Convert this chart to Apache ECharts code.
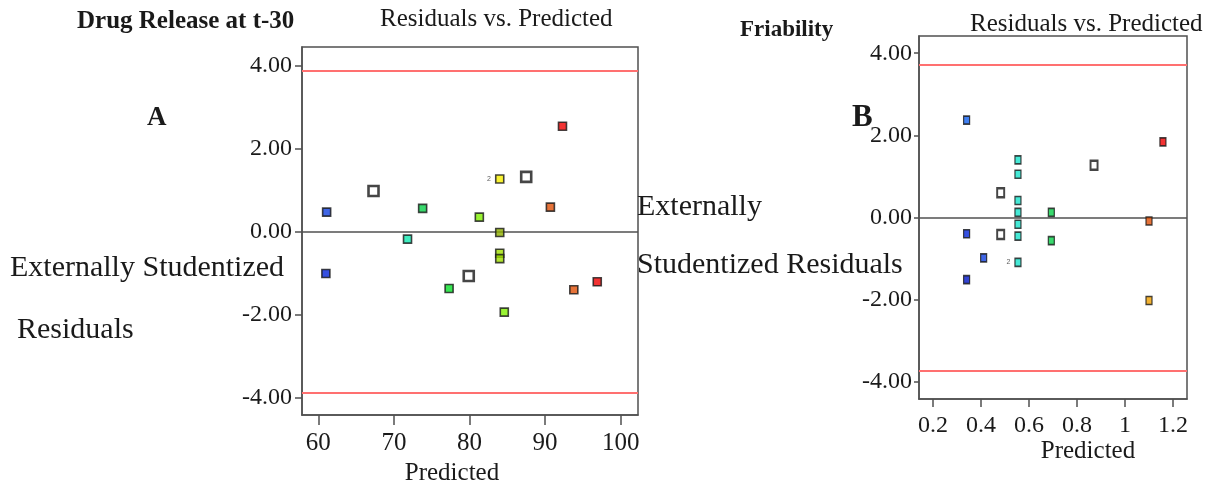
<!DOCTYPE html>
<html>
<head>
<meta charset="utf-8">
<script src="https://cdn.jsdelivr.net/npm/echarts@6/dist/echarts.min.js"></script>
<style>
  html, body { margin: 0; padding: 0; background: #ffffff; }
  #chart { width: 1212px; height: 491px; }
</style>
</head>
<body>
<div id="chart"></div>
<script>
// ---- Panel A: Drug Release at t-30 (residuals vs. predicted) ----
const predA  = [61.1, 61.0, 67.3, 71.8, 73.8, 77.3, 79.9, 81.3, 84.0, 84.0, 84.0, 84.0, 84.6, 87.5, 90.7, 92.3, 93.8, 96.9];
const residA = [0.48, -1.00, 0.99, -0.17, 0.57, -1.36, -1.06, 0.36, 1.28, -0.01, -0.51, -0.64, -1.93, 1.33, 0.60, 2.55, -1.39, -1.20];
const toneA  = ['blue', 'blue2', 'white', 'teal', 'green', 'green2', 'white', 'lime', 'yellow', 'olive', 'lime2', 'lime2', 'lime', 'white', 'orange', 'red', 'orange', 'red'];
const countA = [1, 1, 1, 1, 1, 1, 1, 1, 2, 1, 1, 1, 1, 1, 1, 1, 1, 1];
const limitsA = [3.89, -3.87];
const xTicksA = [60, 70, 80, 90, 100];
const xRangeA = [57.84, 102.29];
const yRangeA = [-4.41, 4.46];

// ---- Panel B: Friability (residuals vs. predicted) ----
const predB  = [0.340, 0.340, 0.340, 0.411, 0.482, 0.482, 0.554, 0.554, 0.554, 0.554, 0.554, 0.554, 0.554, 0.693, 0.693, 0.871, 1.100, 1.100, 1.158];
const residB = [2.37, -0.40, -1.52, -0.99, 0.60, -0.42, 1.40, 1.05, 0.41, 0.12, -0.17, -0.46, -1.10, 0.12, -0.57, 1.27, -0.09, -2.03, 1.84];
const toneB  = ['blueB', 'blue2', 'blue3', 'blue', 'white', 'white', 'tealB', 'tealB', 'tealB', 'tealB', 'tealB', 'tealB', 'tealB', 'green', 'green', 'white', 'orange', 'amber', 'red'];
const countB = [1, 1, 1, 1, 1, 1, 1, 1, 1, 1, 1, 1, 2, 1, 1, 1, 1, 1, 1];
const limitsB = [3.73, -3.74];
const xTicksB = [0.2, 0.4, 0.6, 0.8, 1.0, 1.2];
const xRangeB = [0.1417, 1.2583];
const yRangeB = [-4.43, 4.42];

const yTicks = [-4, -2, 0, 2, 4];

const palette = {
  blue: '#1040e0', blueB: '#1060f0', blue2: '#0424d8', blue3: '#0014c8',
  teal: '#10e8b0', tealB: '#18e4cc', green: '#08d048', green2: '#08e028',
  lime: '#80f000', lime2: '#a0e000', yellow: '#f8f000', olive: '#90b000',
  orange: '#e05008', amber: '#f0a000', red: '#f00000', white: '#ffffff'
};

const SERIF = '"Liberation Serif", "Times New Roman", serif';
const INK = '#1a1a1a';
const FRAME = '#505050';

function points(xs, ys, tones, counts, normalSize, whiteSize, edge, whiteEdge) {
  return xs.map((x, i) => {
    const isWhite = tones[i] === 'white';
    return {
      value: [x, ys[i]],
      symbolSize: isWhite ? whiteSize : normalSize,
      itemStyle: {
        color: palette[tones[i]],
        borderColor: '#181818',
        borderWidth: isWhite ? whiteEdge : edge
      },
      label: {
        show: counts[i] > 1,
        formatter: String(counts[i]),
        position: 'left',
        distance: 4,
        fontSize: 7,
        color: '#333'
      }
    };
  });
}

function refLines(limits) {
  return {
    silent: true,
    symbol: 'none',
    label: { show: false },
    data: [
      { yAxis: 0, lineStyle: { color: FRAME, width: 1.5, type: 'solid' } },
      { yAxis: limits[0], lineStyle: { color: '#ff7070', width: 2, type: 'solid' } },
      { yAxis: limits[1], lineStyle: { color: '#ff7070', width: 2, type: 'solid' } }
    ]
  };
}

function valueAxis(idx, range, ticks, fmt, tickLen, margin, fontSize) {
  return {
    type: 'value',
    gridIndex: idx,
    min: range[0],
    max: range[1],
    splitLine: { show: false },
    axisLine: { show: true, onZero: false, lineStyle: { color: FRAME, width: 1.5 } },
    axisTick: { show: true, inside: false, length: tickLen, customValues: ticks, lineStyle: { color: FRAME, width: 1.5 } },
    axisLabel: {
      show: true, customValues: ticks, formatter: fmt, margin: margin,
      color: INK, fontFamily: SERIF, fontSize: fontSize
    }
  };
}

const fmtY = v => Number(v).toFixed(2);
const fmtXA = v => String(Math.round(v));
const fmtXB = v => String(Math.round(v * 10) / 10);

const chart = echarts.init(document.getElementById('chart'), null, { renderer: 'canvas' });

chart.setOption({
  animation: false,
  backgroundColor: '#ffffff',
  grid: [
    { left: 302, top: 47, width: 336, height: 368, show: true, borderColor: FRAME, borderWidth: 1.5, backgroundColor: 'transparent' },
    { left: 919, top: 36, width: 268, height: 363, show: true, borderColor: FRAME, borderWidth: 1.5, backgroundColor: 'transparent' }
  ],
  xAxis: [
    valueAxis(0, xRangeA, xTicksA, fmtXA, 10, 16, 25),
    valueAxis(1, xRangeB, xTicksB, fmtXB, 8, 15, 24)
  ],
  yAxis: [
    valueAxis(0, yRangeA, yTicks, fmtY, 7, 10, 24),
    valueAxis(1, yRangeB, yTicks, fmtY, 5, 7, 24)
  ],
  series: [
    { type: 'scatter', xAxisIndex: 0, yAxisIndex: 0, data: [], z: 2, markLine: refLines(limitsA) },
    { type: 'scatter', xAxisIndex: 1, yAxisIndex: 1, data: [], z: 2, markLine: refLines(limitsB) },
    { type: 'scatter', xAxisIndex: 0, yAxisIndex: 0, symbol: 'rect', z: 5,
      data: points(predA, residA, toneA, countA, 8, 10, 1.6, 2.6) },
    { type: 'scatter', xAxisIndex: 1, yAxisIndex: 1, symbol: 'rect', z: 5,
      data: points(predB, residB, toneB, countB, [6, 8], [7, 9], 1.4, 2.2) }
  ],
  graphic: [
    { type: 'text', style: { text: 'Drug Release at t-30', x: 77, y: 22, font: 'bold 25px ' + SERIF, fill: INK, verticalAlign: 'middle' } },
    { type: 'text', style: { text: 'Residuals vs. Predicted', x: 380, y: 19, font: '25px ' + SERIF, fill: INK, verticalAlign: 'middle' } },
    { type: 'text', style: { text: 'A', x: 147, y: 118, font: 'bold 27px ' + SERIF, fill: INK, verticalAlign: 'middle' } },
    { type: 'text', style: { text: 'Externally Studentized', x: 10, y: 268, font: '30px ' + SERIF, fill: INK, verticalAlign: 'middle' } },
    { type: 'text', style: { text: 'Residuals', x: 17, y: 330, font: '30px ' + SERIF, fill: INK, verticalAlign: 'middle' } },
    { type: 'text', style: { text: 'Predicted', x: 452, y: 473, font: '25px ' + SERIF, fill: INK, align: 'center', verticalAlign: 'middle' } },
    { type: 'text', style: { text: 'Externally', x: 637, y: 207, font: '30px ' + SERIF, fill: INK, verticalAlign: 'middle' } },
    { type: 'text', style: { text: 'Studentized Residuals', x: 637, y: 265, font: '30px ' + SERIF, fill: INK, verticalAlign: 'middle' } },
    { type: 'text', style: { text: 'Friability', x: 740, y: 30, font: 'bold 23px ' + SERIF, fill: INK, verticalAlign: 'middle' } },
    { type: 'text', style: { text: 'Residuals vs. Predicted', x: 970, y: 24, font: '25px ' + SERIF, fill: INK, verticalAlign: 'middle' } },
    { type: 'text', style: { text: 'B', x: 852, y: 118, font: 'bold 31px ' + SERIF, fill: INK, verticalAlign: 'middle' } },
    { type: 'text', style: { text: 'Predicted', x: 1088, y: 451, font: '25px ' + SERIF, fill: INK, align: 'center', verticalAlign: 'middle' } }
  ]
});
</script>
</body>
</html>
